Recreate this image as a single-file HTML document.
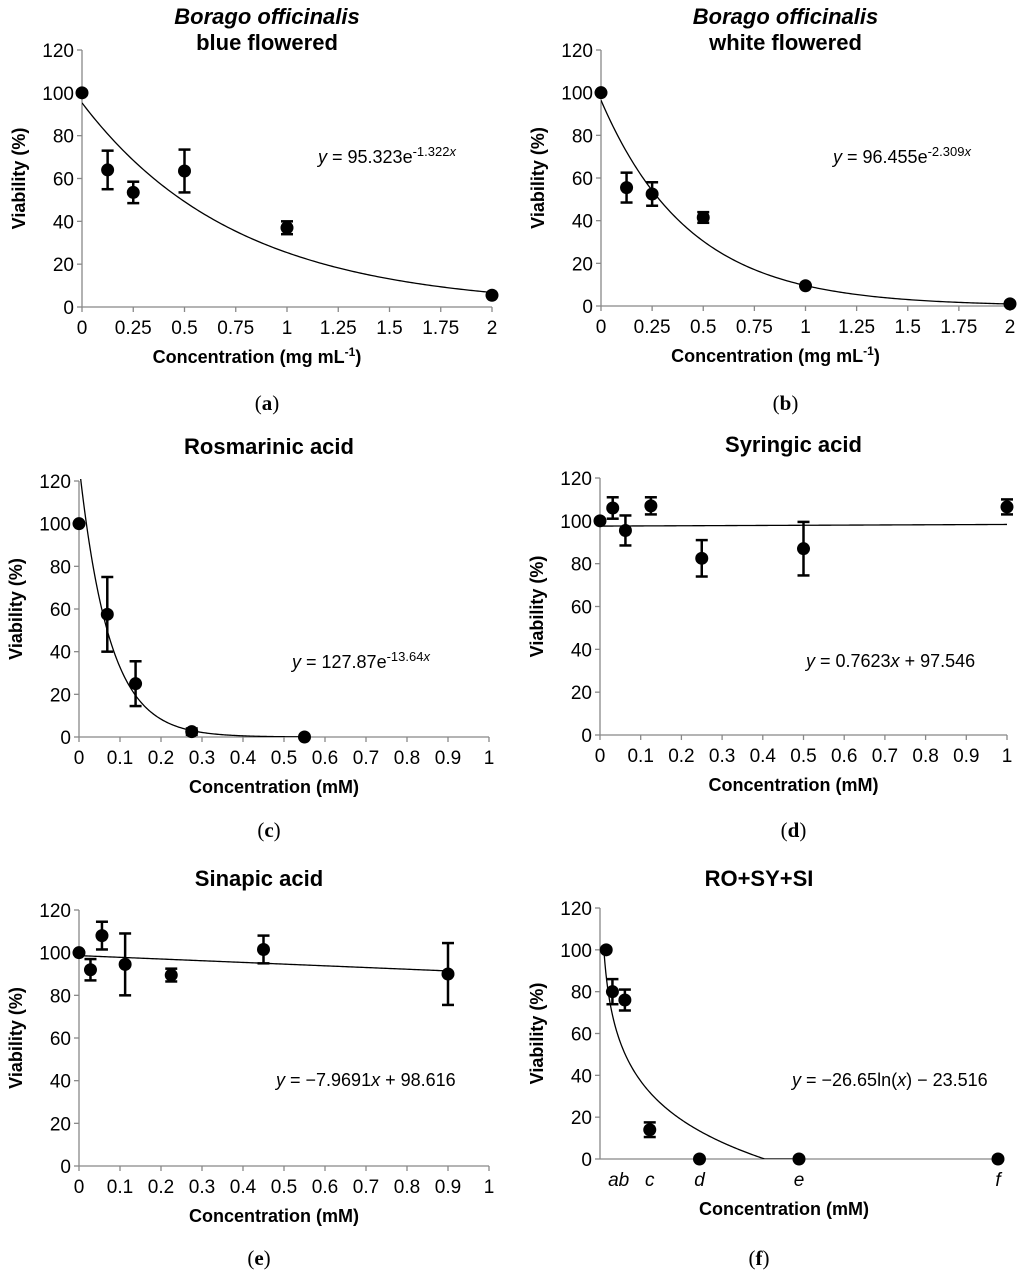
<!DOCTYPE html>
<html><head><meta charset="utf-8"><style>
html,body{margin:0;padding:0;background:#fff;}
svg{display:block;font-family:"Liberation Sans",Arial,sans-serif;}
.tk{font-size:19px;fill:#000;}
.eqn{font-size:18px;fill:#000;}
.ttl{font-size:22px;font-weight:bold;}
.ax{font-size:18px;font-weight:bold;}
.cap{font-family:"Liberation Serif",serif;font-size:21px;}
</style></head><body>
<svg id="s" width="1024" height="1282" viewBox="0 0 1024 1282"></svg>
<script>
// Panel data
const aX=[0,0.125,0.25,0.5,1,2];
const aY=[100,64,53.5,63.5,37,5.5];
const aE=[0,9,5,10,3,0];
const bX=[0,0.125,0.25,0.5,1,2];
const bY=[100,55.5,52.5,41.5,9.5,1];
const bE=[0,7,5.5,2.5,0,0];
const cX=[0,0.069,0.138,0.275,0.55];
const cY=[100,57.5,25,2.5,0];
const cE=[0,17.5,10.5,1.5,0];
const dX=[0,0.03125,0.0625,0.125,0.25,0.5,1];
const dY=[100,106,95.5,107,82.5,87,106.5];
const dE=[0,5,7,4,8.5,12.5,3.5];
const eX=[0,0.028,0.056,0.1125,0.225,0.45,0.9];
const eY=[100,92,108,94.5,89.5,101.5,90];
const eE=[0,5,6.5,14.5,3,6.5,14.5];
const fX=[0.0156,0.03125,0.0625,0.125,0.25,0.5,1];
const fY=[100,80,76,14,0,0,0];
const fE=[0,6,5,3.5,0,0,0];
const yTicks=[0,20,40,60,80,100,120];
const xTicksMg=[0,0.25,0.5,0.75,1,1.25,1.5,1.75,2];
const xTicksMM=[0,0.1,0.2,0.3,0.4,0.5,0.6,0.7,0.8,0.9,1];
const fCatX=[0.046875,0.125,0.25,0.5,1];
const fCatL=["ab","c","d","e","f"];

const NS="http://www.w3.org/2000/svg";
const svg=document.getElementById('s');
function el(t,a,p){const e=document.createElementNS(NS,t);for(const k in a)e.setAttribute(k,a[k]);(p||svg).appendChild(e);return e;}
function txt(p,x,y,s,cls,anchor){const t=el('text',{x:x,y:y,'class':cls,'text-anchor':anchor||'middle'},p);t.textContent=s;return t;}

function panel(o){
  const g=el('g',{});
  
  
  const sx=v=>o.x0+(v-o.xmin)/(o.xmax-o.xmin)*(o.x1-o.x0);
  const sy=v=>o.y0-(v/120)*(o.y0-o.y1);
  const ax=el('g',{},g);
  
  
  el('line',{x1:o.x0,y1:o.y0,x2:o.x0,y2:o.y1,stroke:'#888','stroke-width':1.3},ax);
  el('line',{x1:o.x0,y1:o.y0,x2:o.x1,y2:o.y0,stroke:'#888','stroke-width':1.3},ax);
  yTicks.forEach(v=>{el('line',{x1:o.x0-5,y1:sy(v),x2:o.x0,y2:sy(v),stroke:'#888','stroke-width':1.3},ax);
    const t=txt(ax,o.x0-8,sy(v)+7,String(v),'tk','end');
    
    });
  if(o.xt){o.xt.forEach(v=>{el('line',{x1:sx(v),y1:o.y0,x2:sx(v),y2:o.y0+5,stroke:'#888','stroke-width':1.3},ax);
    const t=txt(ax,sx(v),o.y0+27,String(v),'tk');
    
    });}
  if(o.cat){o.cat.forEach((v,i)=>{const t=txt(ax,sx(v),o.y0+27,o.catL[i],'tk');t.setAttribute('font-style','italic');
    
    });}
  const yt=txt(g,0,0,'Viability (%)','ax');
  yt.setAttribute('transform',`translate(${o.x0-57},${(o.y0+o.y1)/2}) rotate(-90)`);
  
  
  const xt=txt(g,(o.x0+o.x1)/2+o.xtOff,o.y0+56,'','ax');
  xt.innerHTML=o.xlabel;
  
  
  o.title.forEach((s,i)=>{const t=txt(g,(o.x0+o.x1)/2+o.tOff,o.ty+i*26,'','ttl');t.innerHTML=s;
    
    });
  const cp=txt(g,(o.x0+o.x1)/2+o.tOff,o.capY,'','cap');
  cp.innerHTML='(<tspan font-weight="bold">'+o.cap+'</tspan>)';
  
  
  const eq=txt(g,o.eqX,o.eqY,'','eqn','start');eq.innerHTML=o.eq;
  
  
  const id='clip'+o.name;
  const cpth=el('clipPath',{id:id},g);el('rect',{x:o.x0,y:o.y1-2,width:o.x1-o.x0+10,height:o.y0-o.y1+2},cpth);
  let d='';const N=200;
  for(let i=0;i<=N;i++){const xv=o.fa+(o.fb-o.fa)*i/N;let yv=o.fn(xv);if(yv<0)yv=0;d+=(i?'L':'M')+sx(xv).toFixed(2)+','+sy(yv).toFixed(2);}
  const c=el('path',{d:d,fill:'none',stroke:'#000','stroke-width':1.3,'clip-path':`url(#${id})`},g);
  
  
  o.X.forEach((xv,i)=>{
    const px=sx(xv),py=sy(o.Y[i]),e=o.E[i];
    if(e>0){
      const eb=el('g',{stroke:'#000','stroke-width':2.5},g);
      
      
      el('line',{x1:px,y1:sy(o.Y[i]+e),x2:px,y2:sy(o.Y[i]-e)},eb);
      el('line',{x1:px-6,y1:sy(o.Y[i]+e),x2:px+6,y2:sy(o.Y[i]+e)},eb);
      el('line',{x1:px-6,y1:sy(o.Y[i]-e),x2:px+6,y2:sy(o.Y[i]-e)},eb);
    }
    const p=el('circle',{cx:px,cy:py,r:6.5,fill:'#000'},g);
    
    
  });
}
const mgLab='Concentration (mg mL<tspan dy="-7" font-size="12">-1</tspan><tspan dy="7">)</tspan>';
panel({name:'panel-a',x0:82,x1:492,y0:307,y1:50,xmin:0,xmax:2,xt:xTicksMg,X:aX,Y:aY,E:aE,
  fn:x=>95.323*Math.exp(-1.322*x),fa:0,fb:2,xlabel:mgLab,xtOff:-30,
  title:['<tspan font-style="italic">Borago officinalis</tspan>','blue flowered'],ty:24,tOff:-20,cap:'a',capY:410,
  eq:'<tspan font-style="italic">y</tspan> = 95.323e<tspan dy="-7" font-size="13">-1.322<tspan font-style="italic">x</tspan></tspan>',eqX:318,eqY:163});
panel({name:'panel-b',x0:601,x1:1010,y0:306,y1:50,xmin:0,xmax:2,xt:xTicksMg,X:bX,Y:bY,E:bE,
  fn:x=>96.455*Math.exp(-2.309*x),fa:0,fb:2,xlabel:mgLab,xtOff:-30,
  title:['<tspan font-style="italic">Borago officinalis</tspan>','white flowered'],ty:24,tOff:-20,cap:'b',capY:410,
  eq:'<tspan font-style="italic">y</tspan> = 96.455e<tspan dy="-7" font-size="13">-2.309<tspan font-style="italic">x</tspan></tspan>',eqX:833,eqY:163});
panel({name:'panel-c',x0:79,x1:489,y0:737,y1:481,xmin:0,xmax:1,xt:xTicksMM,X:cX,Y:cY,E:cE,
  fn:x=>127.87*Math.exp(-13.64*x),fa:0,fb:0.55,xlabel:'Concentration (mM)',xtOff:-10,
  title:['Rosmarinic acid'],ty:454,tOff:-15,cap:'c',capY:837,
  eq:'<tspan font-style="italic">y</tspan> = 127.87e<tspan dy="-7" font-size="13">-13.64<tspan font-style="italic">x</tspan></tspan>',eqX:292,eqY:668});
panel({name:'panel-d',x0:600,x1:1007,y0:735,y1:478,xmin:0,xmax:1,xt:xTicksMM,X:dX,Y:dY,E:dE,
  fn:x=>0.7623*x+97.546,fa:0,fb:1,xlabel:'Concentration (mM)',xtOff:-10,
  title:['Syringic acid'],ty:452,tOff:-10,cap:'d',capY:837,
  eq:'<tspan font-style="italic">y</tspan> = 0.7623<tspan font-style="italic">x</tspan> + 97.546',eqX:806,eqY:667});
panel({name:'panel-e',x0:79,x1:489,y0:1166,y1:910,xmin:0,xmax:1,xt:xTicksMM,X:eX,Y:eY,E:eE,
  fn:x=>-7.9691*x+98.616,fa:0,fb:0.9,xlabel:'Concentration (mM)',xtOff:-10,
  title:['Sinapic acid'],ty:886,tOff:-25,cap:'e',capY:1265,
  eq:'<tspan font-style="italic">y</tspan> = −7.9691<tspan font-style="italic">x</tspan> + 98.616',eqX:276,eqY:1086});
panel({name:'panel-f',x0:600,x1:998,y0:1159,y1:908,xmin:0,xmax:1,cat:fCatX,catL:fCatL,X:fX,Y:fY,E:fE,
  fn:x=>-26.65*Math.log(x)-23.516,fa:0.0097,fb:0.5,xlabel:'Concentration (mM)',xtOff:-15,
  title:['RO+SY+SI'],ty:886,tOff:-40,cap:'f',capY:1265,
  eq:'<tspan font-style="italic">y</tspan> = −26.65ln(<tspan font-style="italic">x</tspan>) − 23.516',eqX:792,eqY:1086});
</script>
</body></html>
